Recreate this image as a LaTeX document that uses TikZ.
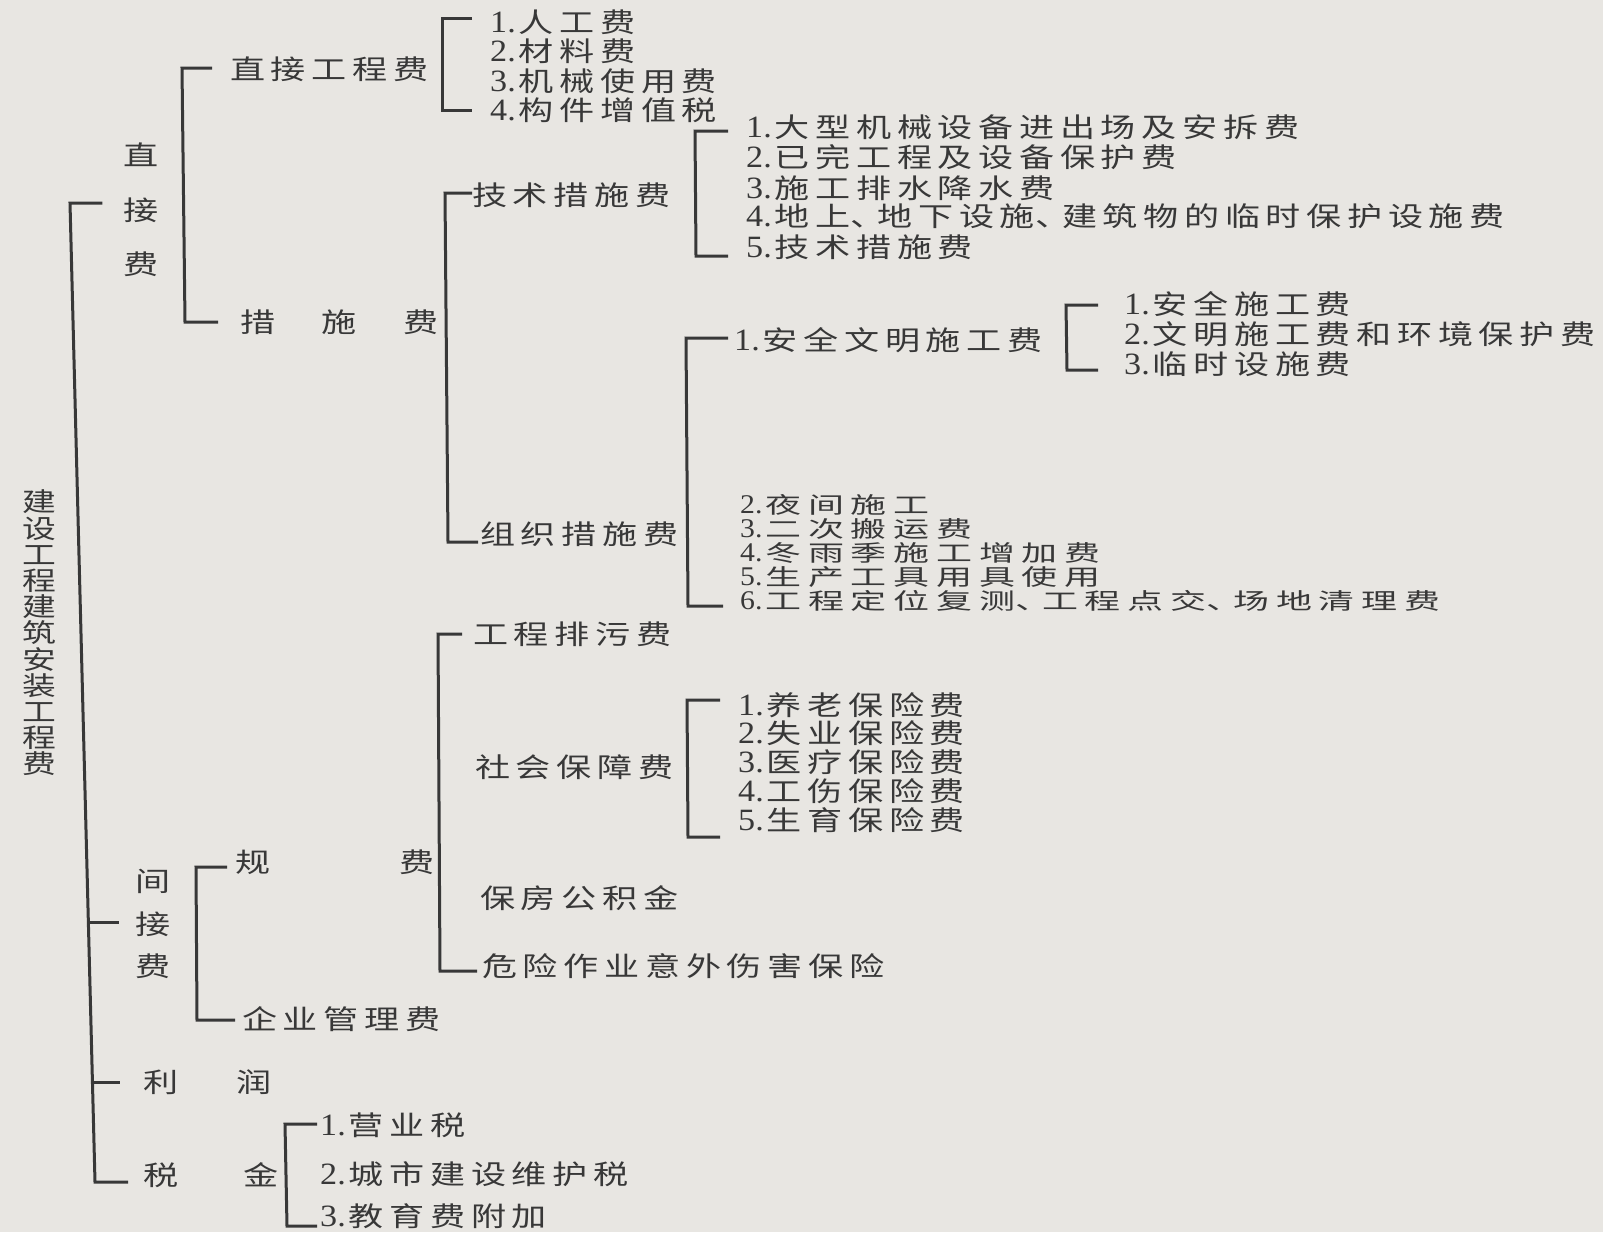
\documentclass[tikz,border=0pt]{standalone}
\usepackage{fontspec}
\usetikzlibrary{calc}
\newfontfamily\cjk[FakeStretch=1.3,LetterSpace=21]{Noto Sans CJK SC}
\newfontfamily\cjkt[FakeStretch=1.6,LetterSpace=30]{Noto Sans CJK SC}
\newfontfamily\cjkv[FakeStretch=1.3]{Noto Sans CJK SC}
\newfontfamily\serifd[FakeStretch=1.1]{Liberation Serif}
\definecolor{paper}{HTML}{E8E6E2}
\definecolor{ink}{HTML}{383838}
\newcommand\numit[2]{{\serifd\fontsize{31}{31}\selectfont #1.}\hspace{3pt}#2}
\newcommand\numtt[2]{{\serifd\fontsize{27}{27}\selectfont #1.}\hspace{3pt}#2}
\newcommand\dun{\makebox[27pt][l]{、}}
\newcommand\brk[6]{\draw[ln] ($(#1 -| #3.west)+(-#5,0)$) -- (#1) -- (#2) -- ($(#2 -| #4.west)+(-#6,0)$);}
\begin{document}
\begin{tikzpicture}[x=1pt,y=-1pt,
  ln/.style={line width=3pt, draw=ink, line join=miter},
  txt/.style={anchor=west, inner sep=0pt, text=ink, font=\cjk\fontsize{27}{28}\selectfont},
  tight/.style={txt, font=\cjkt\fontsize{22.5}{23}\selectfont},
  vtxt/.style={inner sep=0pt, text=ink, align=center}]
\fill[paper] (0,0) rectangle (1603,1232);
\useasboundingbox (0,0) rectangle (1603,1232);

% root and first level
\node[vtxt, font=\cjkv\fontsize{26}{26.2}\selectfont] (root) at (39,633) {建\\设\\工\\程\\建\\筑\\安\\装\\工\\程\\费};
\node[vtxt, font=\cjkv\fontsize{27}{54.5}\selectfont] (zjf) at (141,210) {直\\接\\费};
\node[vtxt, font=\cjkv\fontsize{27}{42.5}\selectfont] (jjf) at (153,924) {间\\接\\费};
\node[txt] (lr) at (143,1082) {\makebox[128pt]{利\hfill 润}};
\node[txt] (sj) at (143,1175) {\makebox[135pt]{税\hfill 金}};

% direct costs
\node[txt] (zjgcf) at (230,69) {直接工程费};
\node[txt] (csf) at (240,322) {\makebox[198pt]{措\hfill 施\hfill 费}};
\node[txt] (c11) at (490,22) {\numit{1}{人工费}};
\node[txt] (c12) at (490,51) {\numit{2}{材料费}};
\node[txt] (c13) at (490,81) {\numit{3}{机械使用费}};
\node[txt] (c14) at (490,110) {\numit{4}{构件增值税}};
\node[txt] (jscsf) at (472,195) {技术措施费};
\node[txt] (zzcsf) at (480,534) {组织措施费};
\node[txt] (t1) at (746,127) {\numit{1}{大型机械设备进出场及安拆费}};
\node[txt] (t2) at (746,157) {\numit{2}{已完工程及设备保护费}};
\node[txt] (t3) at (746,188) {\numit{3}{施工排水降水费}};
\node[txt] (t4) at (746,216) {\numit{4}{地上\dun 地下设施\dun 建筑物的临时保护设施费}};
\node[txt] (t5) at (746,247) {\numit{5}{技术措施费}};
\node[txt] (z1) at (734,340) {\numit{1}{安全文明施工费}};
\node[tight] (z2) at (740,505) {\numtt{2}{夜间施工}};
\node[tight] (z3) at (740,529) {\numtt{3}{二次搬运费}};
\node[tight] (z4) at (740,553) {\numtt{4}{冬雨季施工增加费}};
\node[tight] (z5) at (740,577) {\numtt{5}{生产工具用具使用}};
\node[tight] (z6) at (740,601) {\numtt{6}{工程定位复测\dun 工程点交\dun 场地清理费}};
\node[txt] (a1) at (1124,304) {\numit{1}{安全施工费}};
\node[txt] (a2) at (1124,334) {\numit{2}{文明施工费和环境保护费}};
\node[txt] (a3) at (1124,364) {\numit{3}{临时设施费}};

% indirect costs
\node[txt] (gf) at (235,862) {\makebox[199pt]{规\hfill 费}};
\node[txt] (qyglf) at (242,1019) {企业管理费};
\node[txt] (p1) at (473,634) {工程排污费};
\node[txt] (p2) at (475,767) {社会保障费};
\node[txt] (p3) at (480,898) {保房公积金};
\node[txt] (p4) at (482,966) {危险作业意外伤害保险};
\node[txt] (s1) at (738,705) {\numit{1}{养老保险费}};
\node[txt] (s2) at (738,733) {\numit{2}{失业保险费}};
\node[txt] (s3) at (738,762) {\numit{3}{医疗保险费}};
\node[txt] (s4) at (738,791) {\numit{4}{工伤保险费}};
\node[txt] (s5) at (738,820) {\numit{5}{生育保险费}};
\node[txt] (x1) at (320,1125) {\numit{1}{营业税}};
\node[txt] (x2) at (320,1174) {\numit{2}{城市建设维护税}};
\node[txt] (x3) at (320,1216) {\numit{3}{教育费附加}};

% bracket spines
\coordinate (r_t) at (70,203);   \coordinate (r_b) at (95,1182);
\coordinate (r_m1) at ($(r_t)!0.7354!(r_b)$);
\coordinate (r_m2) at ($(r_t)!0.8979!(r_b)$);
\coordinate (b1t) at (182,68);   \coordinate (b1b) at (185,322);
\coordinate (b2t) at (442,18);   \coordinate (b2b) at (442,110);
\coordinate (b3t) at (445,193);  \coordinate (b3b) at (448,542);
\coordinate (b4t) at (695,131);  \coordinate (b4b) at (696,256);
\coordinate (b5t) at (686,338);  \coordinate (b5b) at (688,606);
\coordinate (b6t) at (1066,305); \coordinate (b6b) at (1067,370);
\coordinate (b7t) at (196,867);  \coordinate (b7b) at (197,1020);
\coordinate (b8t) at (438,634);  \coordinate (b8b) at (440,971);
\coordinate (b9t) at (687,700);  \coordinate (b9b) at (688,837);
\coordinate (b10t) at (285,1124); \coordinate (b10b) at (287,1226);

\brk{r_t}{r_b}{zjf}{sj}{21}{15}
\draw[ln] (r_m1) -- ($(r_m1 -| jjf.west)+(-16,0)$);
\draw[ln] (r_m2) -- ($(r_m2 -| lr.west)+(-23,0)$);
\brk{b1t}{b1b}{zjgcf}{csf}{18}{22}
\brk{b2t}{b2b}{c11}{c14}{18}{18}
\brk{b3t}{b3b}{jscsf}{zzcsf}{0}{2}
\brk{b4t}{b4b}{t1}{t5}{18}{18}
\brk{b5t}{b5b}{z1}{z6}{6}{17}
\brk{b6t}{b6b}{a1}{a3}{26}{26}
\brk{b7t}{b7b}{gf}{qyglf}{8}{7}
\brk{b8t}{b8b}{p1}{p4}{11}{5}
\brk{b9t}{b9b}{s1}{s5}{18}{18}
\brk{b10t}{b10b}{x1}{x3}{3}{3}
\end{tikzpicture}
\end{document}
